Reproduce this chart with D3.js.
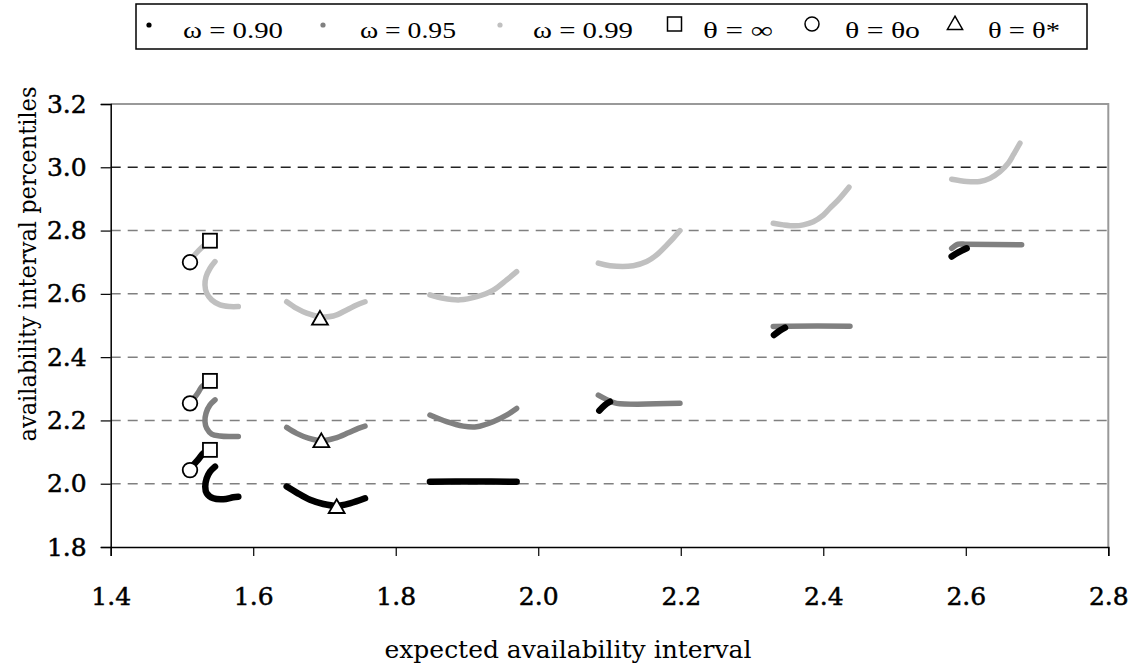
<!DOCTYPE html>
<meta charset="utf-8">
<style>
  body { margin: 0; background: #fff; }
  .tick text { font-family: "DejaVu Serif", serif; font-size: 25px; fill: #000; stroke: #000; stroke-width: 0.5; }
  .axis-title { font-family: "DejaVu Serif", serif; font-size: 25px; fill: #000; }
  .legend text { font-family: "Liberation Serif", serif; font-size: 23px; fill: #000; }
</style>
<body>
<div id="chart"></div>
<script src="https://d3js.org/d3.v7.min.js"></script>
<script>
// axis ticks
const xTicks = [1.4, 1.6, 1.8, 2.0, 2.2, 2.4, 2.6, 2.8];
const yTicks = [1.8, 2.0, 2.2, 2.4, 2.6, 2.8, 3.0, 3.2];
const gridValues = [2.0, 2.2, 2.4, 2.6, 2.8, 3.0];

// omega = 0.90, one array per run of points
const omega90 = [
  [[1.5113, 2.043], [1.516, 2.059], [1.523, 2.077], [1.530, 2.096], [1.5393, 2.107]],
  [[1.5464, 2.054], [1.5394, 2.038], [1.5347, 2.017], [1.5327, 1.991], [1.5347, 1.970], [1.5440, 1.954], [1.5580, 1.951], [1.5721, 1.957], [1.5791, 1.959]],
  [[1.647, 1.991], [1.661, 1.972], [1.6797, 1.949], [1.6984, 1.936], [1.7171, 1.930], [1.7358, 1.938], [1.7569, 1.954]],
  [[1.848, 2.006], [1.909, 2.007], [1.9697, 2.006]],
  [[2.0857, 2.231], [2.0937, 2.249], [2.1007, 2.259]],
  [[2.3308, 2.470], [2.3393, 2.484], [2.3463, 2.493]],
  [[2.5802, 2.718], [2.5895, 2.731], [2.6012, 2.744]]
];

// omega = 0.95
const omega95 = [
  [[1.5113, 2.254], [1.517, 2.270], [1.523, 2.289], [1.528, 2.307], [1.5393, 2.325]],
  [[1.5464, 2.265], [1.5394, 2.249], [1.5338, 2.223], [1.5323, 2.196], [1.5347, 2.175], [1.5417, 2.157], [1.5534, 2.151], [1.5674, 2.149], [1.5791, 2.149]],
  [[1.647, 2.178], [1.661, 2.159], [1.6774, 2.144], [1.6961, 2.136], [1.7148, 2.144], [1.7335, 2.161], [1.7475, 2.175], [1.7569, 2.182]],
  [[1.848, 2.217], [1.8714, 2.196], [1.8947, 2.182], [1.9134, 2.180], [1.9367, 2.196], [1.9555, 2.217], [1.9697, 2.238]],
  [[2.0843, 2.280], [2.1007, 2.261], [2.1101, 2.254], [2.1989, 2.254]],
  [[2.3298, 2.497], [2.3500, 2.498], [2.4375, 2.498]],
  [[2.5802, 2.744], [2.5895, 2.757], [2.6012, 2.757], [2.6784, 2.755]]
];

// omega = 0.99
const omega99 = [
  [[1.5113, 2.700], [1.516, 2.718], [1.523, 2.736], [1.530, 2.751], [1.5393, 2.768]],
  [[1.5464, 2.702], [1.5394, 2.681], [1.5338, 2.654], [1.5323, 2.628], [1.5347, 2.602], [1.5417, 2.581], [1.5534, 2.565], [1.5674, 2.560], [1.5791, 2.560]],
  [[1.647, 2.575], [1.661, 2.554], [1.675, 2.539], [1.6937, 2.528], [1.7124, 2.530], [1.7312, 2.549], [1.7452, 2.565], [1.7569, 2.575]],
  [[1.848, 2.597], [1.8667, 2.586], [1.8902, 2.581], [1.9136, 2.591], [1.9369, 2.612], [1.9557, 2.644], [1.9697, 2.670]],
  [[2.0843, 2.697], [2.1007, 2.689], [2.1334, 2.689], [2.1522, 2.702], [2.1662, 2.723], [2.1803, 2.754], [2.1896, 2.776], [2.1989, 2.800]],
  [[2.3298, 2.823], [2.3439, 2.818], [2.3603, 2.815], [2.3720, 2.818], [2.3860, 2.828], [2.4000, 2.849], [2.4094, 2.871], [2.4211, 2.897], [2.4361, 2.937]],
  [[2.5802, 2.962], [2.6012, 2.955], [2.6199, 2.955], [2.6339, 2.965], [2.6480, 2.986], [2.6596, 3.013], [2.6666, 3.039], [2.6760, 3.076]]
];

// special theta points
const thetaInf = [[1.5393, 2.768], [1.5393, 2.325], [1.5393, 2.107]];
const thetaO = [[1.5113, 2.700], [1.5113, 2.254], [1.5113, 2.043]];
const thetaStar = [[1.6937, 2.517], [1.6956, 2.130], [1.7171, 1.922]];

const legendLabels = ["ω = 0.90", "ω = 0.95", "ω = 0.99", "θ = ∞", "θ = θo", "θ = θ*"];

const width = 1136, height = 666;
const svg = d3.select("#chart").append("svg")
  .attr("width", width)
  .attr("height", height);

const x = d3.scaleLinear().domain([1.4, 2.8]).range([110.7, 1108.3]);
const y = d3.scaleLinear().domain([1.8, 3.2]).range([547, 104]);

// gridlines (the 3.0 one is printed darker in the original)
svg.append("g")
  .selectAll("line")
  .data(gridValues)
  .join("line")
    .attr("x1", x(1.4)).attr("x2", x(2.8))
    .attr("y1", d => y(d)).attr("y2", d => y(d))
    .attr("stroke", d => d === 3.0 ? "#222" : "#808080")
    .attr("stroke-width", 1.5)
    .attr("stroke-dasharray", "10,7");

// plot area border (top/right)
svg.append("path")
  .attr("d", `M${x(1.4)},${y(3.2)}H${x(2.8)}V${y(1.8)}`)
  .attr("fill", "none")
  .attr("stroke", "#999")
  .attr("stroke-width", 2);

// axes
const xAxis = svg.append("g")
  .attr("transform", `translate(0,${y(1.8)})`)
  .call(d3.axisBottom(x).tickValues(xTicks).tickSize(9).tickFormat(d3.format(".1f")));
xAxis.selectAll("text").attr("dy", null).attr("y", 58);

const yAxis = svg.append("g")
  .attr("transform", `translate(${x(1.4)},0)`)
  .call(d3.axisLeft(y).tickValues(yTicks).tickSize(10).tickPadding(14).tickFormat(d3.format(".1f")));

svg.selectAll(".domain").attr("stroke", "#000").attr("stroke-width", 1.5);
svg.selectAll(".tick line").attr("stroke", "#000").attr("stroke-width", 1.2);

// series
const line = d3.line()
  .x(d => x(d[0]))
  .y(d => y(d[1]))
  .curve(d3.curveCatmullRom);

const series = [
  {data: omega99, color: "#c0c0c0", w: 5.5},
  {data: omega95, color: "#808080", w: 5.5},
  {data: omega90, color: "#000000", w: 6.5}
];

series.forEach(s => {
  svg.append("g")
    .selectAll("path")
    .data(s.data)
    .join("path")
      .attr("d", line)
      .attr("fill", "none")
      .attr("stroke", s.color)
      .attr("stroke-width", s.w)
      .attr("stroke-linecap", "round")
      .attr("stroke-linejoin", "round");
});

// markers
const mk = svg.append("g")
  .attr("fill", "#fff")
  .attr("stroke", "#000")
  .attr("stroke-width", 1.8);

mk.selectAll("rect")
  .data(thetaInf)
  .join("rect")
    .attr("x", d => x(d[0]) - 7)
    .attr("y", d => y(d[1]) - 7)
    .attr("width", 14).attr("height", 14);

mk.selectAll("circle")
  .data(thetaO)
  .join("circle")
    .attr("cx", d => x(d[0]))
    .attr("cy", d => y(d[1]))
    .attr("r", 7.3);

const tri = d3.symbol().type(d3.symbolTriangle).size(110);
mk.selectAll("path")
  .data(thetaStar)
  .join("path")
    .attr("transform", d => `translate(${x(d[0])},${y(d[1])})`)
    .attr("d", tri);

// axis titles
svg.append("text")
  .attr("class", "axis-title")
  .attr("x", 568).attr("y", 658)
  .attr("text-anchor", "middle")
  .attr("textLength", 367)
  .attr("lengthAdjust", "spacingAndGlyphs")
  .text("expected availability interval");

svg.append("text")
  .attr("class", "axis-title")
  .attr("transform", "translate(36,264) rotate(-90)")
  .attr("text-anchor", "middle")
  .attr("textLength", 355)
  .attr("lengthAdjust", "spacingAndGlyphs")
  .text("availability interval percentiles");

// legend
const legend = svg.append("g").attr("class", "legend");
legend.append("rect")
  .attr("x", 136).attr("y", 4)
  .attr("width", 951).attr("height", 45)
  .attr("fill", "#fff")
  .attr("stroke", "#000")
  .attr("stroke-width", 1.5);

const symX = [149, 323, 500, 674.5, 812, 955];
const textX = [183, 360, 533, 703, 845, 988];
const textW = [100, 96, 100, 70, 75, 72];
const symY = 25;

legend.selectAll("text")
  .data(legendLabels)
  .join("text")
    .attr("x", (d, i) => textX[i])
    .attr("y", 38)
    .attr("textLength", (d, i) => textW[i])
    .attr("lengthAdjust", "spacingAndGlyphs")
    .text(d => d);

const dotColors = ["#000000", "#808080", "#c0c0c0"];
legend.selectAll("circle.dot")
  .data(dotColors)
  .join("circle")
    .attr("class", "dot")
    .attr("cx", (d, i) => symX[i])
    .attr("cy", symY)
    .attr("r", 2.6)
    .attr("fill", d => d);

legend.append("rect")
  .attr("x", symX[3] - 7).attr("y", symY - 8)
  .attr("width", 14).attr("height", 14)
  .attr("fill", "#fff").attr("stroke", "#000").attr("stroke-width", 1.5);
legend.append("circle")
  .attr("cx", symX[4]).attr("cy", symY - 1).attr("r", 7)
  .attr("fill", "#fff").attr("stroke", "#000").attr("stroke-width", 1.5);
legend.append("path")
  .attr("transform", `translate(${symX[5]},${symY})`)
  .attr("d", d3.symbol().type(d3.symbolTriangle).size(100))
  .attr("fill", "#fff").attr("stroke", "#000").attr("stroke-width", 1.5);
</script>
</body>
